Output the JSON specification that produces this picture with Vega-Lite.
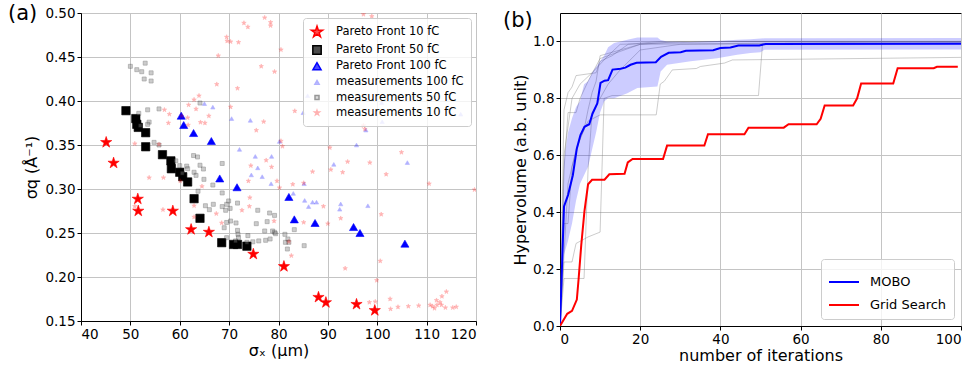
{
  "$schema": "https://vega.github.io/schema/vega-lite/v6.json",
  "background": "white",
  "padding": {"left": 7, "top": 2, "right": 5, "bottom": 5},
  "spacing": 25,
  "resolve": {
    "scale": {"fill": "independent", "stroke": "independent", "shape": "independent", "size": "independent", "opacity": "independent", "x": "independent", "y": "independent"},
    "legend": {"fill": "independent", "stroke": "independent", "shape": "independent", "size": "independent", "opacity": "independent"}
  },
  "config": {
    "font": "DejaVu Sans",
    "view": {"stroke": "black", "strokeWidth": 1},
    "axis": {
      "labelFont": "DejaVu Sans", "labelFontSize": 13.5, "labelColor": "black",
      "titleFont": "DejaVu Sans", "titleFontSize": 16, "titleFontWeight": "normal", "titleColor": "black",
      "domainColor": "black", "tickColor": "black", "tickSize": 4, "labelPadding": 2,
      "gridColor": "#c4c4c4", "gridWidth": 1
    },
    "legend": {"title": null, "labelFont": "DejaVu Sans", "labelColor": "black", "fillColor": "rgba(255,255,255,0.8)", "strokeColor": "#cccccc", "cornerRadius": 3},
    "title": {"font": "DejaVu Sans", "fontSize": 21, "fontWeight": "normal", "color": "black"}
  },
  "datasets": {
    "scatter": [
      {"series": "Pareto Front 10 fC", "x": 45.1, "y": 0.353},
      {"series": "Pareto Front 10 fC", "x": 46.6, "y": 0.3295},
      {"series": "Pareto Front 10 fC", "x": 51.5, "y": 0.2886},
      {"series": "Pareto Front 10 fC", "x": 51.6, "y": 0.275},
      {"series": "Pareto Front 10 fC", "x": 58.6, "y": 0.275},
      {"series": "Pareto Front 10 fC", "x": 62.3, "y": 0.254},
      {"series": "Pareto Front 10 fC", "x": 65.9, "y": 0.251},
      {"series": "Pareto Front 10 fC", "x": 74.9, "y": 0.226},
      {"series": "Pareto Front 10 fC", "x": 81.1, "y": 0.212},
      {"series": "Pareto Front 10 fC", "x": 88.1, "y": 0.177},
      {"series": "Pareto Front 10 fC", "x": 89.6, "y": 0.171},
      {"series": "Pareto Front 10 fC", "x": 95.8, "y": 0.169},
      {"series": "Pareto Front 10 fC", "x": 99.5, "y": 0.162},
      {"series": "Pareto Front 50 fC", "x": 49.1, "y": 0.389},
      {"series": "Pareto Front 50 fC", "x": 51.1, "y": 0.380},
      {"series": "Pareto Front 50 fC", "x": 51.3, "y": 0.3735},
      {"series": "Pareto Front 50 fC", "x": 51.6, "y": 0.370},
      {"series": "Pareto Front 50 fC", "x": 53.1, "y": 0.364},
      {"series": "Pareto Front 50 fC", "x": 53.1, "y": 0.348},
      {"series": "Pareto Front 50 fC", "x": 56.5, "y": 0.339},
      {"series": "Pareto Front 50 fC", "x": 58.2, "y": 0.332},
      {"series": "Pareto Front 50 fC", "x": 58.3, "y": 0.323},
      {"series": "Pareto Front 50 fC", "x": 60.0, "y": 0.319},
      {"series": "Pareto Front 50 fC", "x": 60.6, "y": 0.314},
      {"series": "Pareto Front 50 fC", "x": 61.6, "y": 0.308},
      {"series": "Pareto Front 50 fC", "x": 62.9, "y": 0.289},
      {"series": "Pareto Front 50 fC", "x": 64.1, "y": 0.2667},
      {"series": "Pareto Front 50 fC", "x": 68.5, "y": 0.239},
      {"series": "Pareto Front 50 fC", "x": 70.9, "y": 0.237},
      {"series": "Pareto Front 50 fC", "x": 71.7, "y": 0.237},
      {"series": "Pareto Front 50 fC", "x": 73.6, "y": 0.235},
      {"series": "Pareto Front 100 fC", "x": 60.3, "y": 0.3833},
      {"series": "Pareto Front 100 fC", "x": 60.8, "y": 0.3727},
      {"series": "Pareto Front 100 fC", "x": 62.8, "y": 0.3636},
      {"series": "Pareto Front 100 fC", "x": 66.4, "y": 0.3545},
      {"series": "Pareto Front 100 fC", "x": 68.1, "y": 0.312},
      {"series": "Pareto Front 100 fC", "x": 71.6, "y": 0.302},
      {"series": "Pareto Front 100 fC", "x": 82.1, "y": 0.291},
      {"series": "Pareto Front 100 fC", "x": 83.2, "y": 0.2655},
      {"series": "Pareto Front 100 fC", "x": 87.4, "y": 0.2614},
      {"series": "Pareto Front 100 fC", "x": 95.2, "y": 0.2568},
      {"series": "Pareto Front 100 fC", "x": 96.5, "y": 0.25},
      {"series": "Pareto Front 100 fC", "x": 105.6, "y": 0.2379},
      {"series": "measurements 100 fC", "x": 65.0, "y": 0.397},
      {"series": "measurements 100 fC", "x": 66.7, "y": 0.393},
      {"series": "measurements 100 fC", "x": 70.5, "y": 0.380},
      {"series": "measurements 100 fC", "x": 74.3, "y": 0.378},
      {"series": "measurements 100 fC", "x": 72.1, "y": 0.345},
      {"series": "measurements 100 fC", "x": 75.3, "y": 0.337},
      {"series": "measurements 100 fC", "x": 75.8, "y": 0.324},
      {"series": "measurements 100 fC", "x": 74.5, "y": 0.316},
      {"series": "measurements 100 fC", "x": 76.7, "y": 0.314},
      {"series": "measurements 100 fC", "x": 78.6, "y": 0.337},
      {"series": "measurements 100 fC", "x": 78.5, "y": 0.306},
      {"series": "measurements 100 fC", "x": 80.2, "y": 0.354},
      {"series": "measurements 100 fC", "x": 83.0, "y": 0.295},
      {"series": "measurements 100 fC", "x": 85.2, "y": 0.306},
      {"series": "measurements 100 fC", "x": 85.3, "y": 0.287},
      {"series": "measurements 100 fC", "x": 86.1, "y": 0.280},
      {"series": "measurements 100 fC", "x": 86.9, "y": 0.285},
      {"series": "measurements 100 fC", "x": 87.7, "y": 0.285},
      {"series": "measurements 100 fC", "x": 91.2, "y": 0.328},
      {"series": "measurements 100 fC", "x": 92.6, "y": 0.283},
      {"series": "measurements 100 fC", "x": 92.4, "y": 0.277},
      {"series": "measurements 100 fC", "x": 95.8, "y": 0.350},
      {"series": "measurements 100 fC", "x": 97.7, "y": 0.367},
      {"series": "measurements 100 fC", "x": 98.1, "y": 0.281},
      {"series": "measurements 100 fC", "x": 101.0, "y": 0.3765},
      {"series": "measurements 100 fC", "x": 100.9, "y": 0.398},
      {"series": "measurements 100 fC", "x": 106.1, "y": 0.330},
      {"series": "measurements 100 fC", "x": 85.9, "y": 0.406},
      {"series": "measurements 100 fC", "x": 85.0, "y": 0.3867},
      {"series": "measurements 100 fC", "x": 116.9, "y": 0.385},
      {"series": "measurements 50 fC", "x": 50.0, "y": 0.4394},
      {"series": "measurements 50 fC", "x": 51.3, "y": 0.4356},
      {"series": "measurements 50 fC", "x": 52.3, "y": 0.4333},
      {"series": "measurements 50 fC", "x": 53.0, "y": 0.443},
      {"series": "measurements 50 fC", "x": 52.8, "y": 0.425},
      {"series": "measurements 50 fC", "x": 54.2, "y": 0.432},
      {"series": "measurements 50 fC", "x": 54.2, "y": 0.4227},
      {"series": "measurements 50 fC", "x": 51.7, "y": 0.386},
      {"series": "measurements 50 fC", "x": 53.5, "y": 0.390},
      {"series": "measurements 50 fC", "x": 53.8, "y": 0.376},
      {"series": "measurements 50 fC", "x": 55.8, "y": 0.391},
      {"series": "measurements 50 fC", "x": 54.8, "y": 0.353},
      {"series": "measurements 50 fC", "x": 55.8, "y": 0.350},
      {"series": "measurements 50 fC", "x": 59.2, "y": 0.332},
      {"series": "measurements 50 fC", "x": 60.0, "y": 0.3265},
      {"series": "measurements 50 fC", "x": 61.4, "y": 0.326},
      {"series": "measurements 50 fC", "x": 62.8, "y": 0.338},
      {"series": "measurements 50 fC", "x": 63.6, "y": 0.3364},
      {"series": "measurements 50 fC", "x": 64.1, "y": 0.327},
      {"series": "measurements 50 fC", "x": 64.8, "y": 0.3227},
      {"series": "measurements 50 fC", "x": 62.9, "y": 0.319},
      {"series": "measurements 50 fC", "x": 64.9, "y": 0.311},
      {"series": "measurements 50 fC", "x": 68.6, "y": 0.329},
      {"series": "measurements 50 fC", "x": 66.7, "y": 0.3045},
      {"series": "measurements 50 fC", "x": 68.6, "y": 0.2955},
      {"series": "measurements 50 fC", "x": 65.2, "y": 0.281},
      {"series": "measurements 50 fC", "x": 66.0, "y": 0.2765},
      {"series": "measurements 50 fC", "x": 66.8, "y": 0.2826},
      {"series": "measurements 50 fC", "x": 68.6, "y": 0.280},
      {"series": "measurements 50 fC", "x": 69.5, "y": 0.2826},
      {"series": "measurements 50 fC", "x": 69.9, "y": 0.2864},
      {"series": "measurements 50 fC", "x": 70.2, "y": 0.278},
      {"series": "measurements 50 fC", "x": 71.7, "y": 0.284},
      {"series": "measurements 50 fC", "x": 69.3, "y": 0.2758},
      {"series": "measurements 50 fC", "x": 69.0, "y": 0.256},
      {"series": "measurements 50 fC", "x": 69.5, "y": 0.262},
      {"series": "measurements 50 fC", "x": 70.3, "y": 0.2636},
      {"series": "measurements 50 fC", "x": 71.4, "y": 0.2614},
      {"series": "measurements 50 fC", "x": 71.7, "y": 0.253},
      {"series": "measurements 50 fC", "x": 71.8, "y": 0.2485},
      {"series": "measurements 50 fC", "x": 71.9, "y": 0.2447},
      {"series": "measurements 50 fC", "x": 69.5, "y": 0.2447},
      {"series": "measurements 50 fC", "x": 71.3, "y": 0.241},
      {"series": "measurements 50 fC", "x": 73.8, "y": 0.247},
      {"series": "measurements 50 fC", "x": 73.6, "y": 0.2394},
      {"series": "measurements 50 fC", "x": 74.8, "y": 0.240},
      {"series": "measurements 50 fC", "x": 75.5, "y": 0.2606},
      {"series": "measurements 50 fC", "x": 75.8, "y": 0.2758},
      {"series": "measurements 50 fC", "x": 76.0, "y": 0.241},
      {"series": "measurements 50 fC", "x": 77.2, "y": 0.2523},
      {"series": "measurements 50 fC", "x": 77.4, "y": 0.2417},
      {"series": "measurements 50 fC", "x": 77.7, "y": 0.2629},
      {"series": "measurements 50 fC", "x": 78.2, "y": 0.2727},
      {"series": "measurements 50 fC", "x": 78.3, "y": 0.2432},
      {"series": "measurements 50 fC", "x": 78.8, "y": 0.2523},
      {"series": "measurements 50 fC", "x": 79.2, "y": 0.2508},
      {"series": "measurements 50 fC", "x": 79.2, "y": 0.270},
      {"series": "measurements 50 fC", "x": 79.4, "y": 0.2492},
      {"series": "measurements 50 fC", "x": 81.3, "y": 0.2485},
      {"series": "measurements 50 fC", "x": 81.4, "y": 0.2394},
      {"series": "measurements 50 fC", "x": 81.8, "y": 0.2318},
      {"series": "measurements 50 fC", "x": 81.9, "y": 0.2432},
      {"series": "measurements 50 fC", "x": 82.1, "y": 0.2394},
      {"series": "measurements 50 fC", "x": 83.2, "y": 0.2538},
      {"series": "measurements 50 fC", "x": 85.2, "y": 0.2356},
      {"series": "measurements 50 fC", "x": 64.1, "y": 0.3977},
      {"series": "measurements 50 fC", "x": 61.6, "y": 0.323},
      {"series": "measurements 50 fC", "x": 63.3, "y": 0.3155},
      {"series": "measurements 50 fC", "x": 53.5, "y": 0.3735},
      {"series": "measurements 50 fC", "x": 52.0, "y": 0.372},
      {"series": "measurements 50 fC", "x": 60.5, "y": 0.318},
      {"series": "measurements 50 fC", "x": 63.7, "y": 0.2975},
      {"series": "measurements 10 fC", "x": 73.0, "y": 0.4886},
      {"series": "measurements 10 fC", "x": 73.8, "y": 0.4841},
      {"series": "measurements 10 fC", "x": 77.2, "y": 0.4947},
      {"series": "measurements 10 fC", "x": 78.4, "y": 0.4894},
      {"series": "measurements 10 fC", "x": 78.4, "y": 0.4856},
      {"series": "measurements 10 fC", "x": 97.2, "y": 0.4985},
      {"series": "measurements 10 fC", "x": 98.9, "y": 0.4962},
      {"series": "measurements 10 fC", "x": 69.5, "y": 0.4727},
      {"series": "measurements 10 fC", "x": 69.6, "y": 0.4682},
      {"series": "measurements 10 fC", "x": 70.3, "y": 0.4674},
      {"series": "measurements 10 fC", "x": 71.9, "y": 0.4667},
      {"series": "measurements 10 fC", "x": 67.8, "y": 0.4515},
      {"series": "measurements 10 fC", "x": 80.5, "y": 0.4583},
      {"series": "measurements 10 fC", "x": 76.5, "y": 0.4394},
      {"series": "measurements 10 fC", "x": 79.2, "y": 0.4333},
      {"series": "measurements 10 fC", "x": 67.5, "y": 0.419},
      {"series": "measurements 10 fC", "x": 71.7, "y": 0.4144},
      {"series": "measurements 10 fC", "x": 62.9, "y": 0.4015},
      {"series": "measurements 10 fC", "x": 63.9, "y": 0.406},
      {"series": "measurements 10 fC", "x": 61.8, "y": 0.3955},
      {"series": "measurements 10 fC", "x": 63.3, "y": 0.3909},
      {"series": "measurements 10 fC", "x": 56.9, "y": 0.390},
      {"series": "measurements 10 fC", "x": 57.9, "y": 0.385},
      {"series": "measurements 10 fC", "x": 57.7, "y": 0.375},
      {"series": "measurements 10 fC", "x": 60.4, "y": 0.383},
      {"series": "measurements 10 fC", "x": 61.6, "y": 0.381},
      {"series": "measurements 10 fC", "x": 61.7, "y": 0.3727},
      {"series": "measurements 10 fC", "x": 64.2, "y": 0.3758},
      {"series": "measurements 10 fC", "x": 65.1, "y": 0.375},
      {"series": "measurements 10 fC", "x": 65.9, "y": 0.383},
      {"series": "measurements 10 fC", "x": 70.3, "y": 0.3932},
      {"series": "measurements 10 fC", "x": 75.5, "y": 0.3667},
      {"series": "measurements 10 fC", "x": 77.0, "y": 0.3765},
      {"series": "measurements 10 fC", "x": 83.3, "y": 0.3886},
      {"series": "measurements 10 fC", "x": 50.9, "y": 0.3515},
      {"series": "measurements 10 fC", "x": 55.8, "y": 0.3508},
      {"series": "measurements 10 fC", "x": 53.8, "y": 0.3129},
      {"series": "measurements 10 fC", "x": 56.7, "y": 0.3129},
      {"series": "measurements 10 fC", "x": 60.1, "y": 0.3091},
      {"series": "measurements 10 fC", "x": 64.5, "y": 0.303},
      {"series": "measurements 10 fC", "x": 73.9, "y": 0.3091},
      {"series": "measurements 10 fC", "x": 74.4, "y": 0.3265},
      {"series": "measurements 10 fC", "x": 77.5, "y": 0.3326},
      {"series": "measurements 10 fC", "x": 78.6, "y": 0.325},
      {"series": "measurements 10 fC", "x": 79.7, "y": 0.3091},
      {"series": "measurements 10 fC", "x": 80.2, "y": 0.3015},
      {"series": "measurements 10 fC", "x": 80.5, "y": 0.3545},
      {"series": "measurements 10 fC", "x": 80.8, "y": 0.3485},
      {"series": "measurements 10 fC", "x": 82.9, "y": 0.3053},
      {"series": "measurements 10 fC", "x": 85.1, "y": 0.3068},
      {"series": "measurements 10 fC", "x": 86.9, "y": 0.3197},
      {"series": "measurements 10 fC", "x": 90.4, "y": 0.347},
      {"series": "measurements 10 fC", "x": 90.6, "y": 0.322},
      {"series": "measurements 10 fC", "x": 93.0, "y": 0.319},
      {"series": "measurements 10 fC", "x": 94.0, "y": 0.331},
      {"series": "measurements 10 fC", "x": 98.5, "y": 0.330},
      {"series": "measurements 10 fC", "x": 97.2, "y": 0.372},
      {"series": "measurements 10 fC", "x": 97.5, "y": 0.368},
      {"series": "measurements 10 fC", "x": 104.9, "y": 0.3417},
      {"series": "measurements 10 fC", "x": 101.8, "y": 0.3167},
      {"series": "measurements 10 fC", "x": 110.5, "y": 0.306},
      {"series": "measurements 10 fC", "x": 119.7, "y": 0.2992},
      {"series": "measurements 10 fC", "x": 100.8, "y": 0.2712},
      {"series": "measurements 10 fC", "x": 89.1, "y": 0.2803},
      {"series": "measurements 10 fC", "x": 92.6, "y": 0.2667},
      {"series": "measurements 10 fC", "x": 90.0, "y": 0.2606},
      {"series": "measurements 10 fC", "x": 85.1, "y": 0.2621},
      {"series": "measurements 10 fC", "x": 50.9, "y": 0.2803},
      {"series": "measurements 10 fC", "x": 56.6, "y": 0.2765},
      {"series": "measurements 10 fC", "x": 62.9, "y": 0.281},
      {"series": "measurements 10 fC", "x": 62.9, "y": 0.2682},
      {"series": "measurements 10 fC", "x": 67.4, "y": 0.272},
      {"series": "measurements 10 fC", "x": 68.5, "y": 0.2614},
      {"series": "measurements 10 fC", "x": 72.6, "y": 0.2758},
      {"series": "measurements 10 fC", "x": 74.1, "y": 0.2803},
      {"series": "measurements 10 fC", "x": 74.2, "y": 0.2902},
      {"series": "measurements 10 fC", "x": 79.1, "y": 0.2636},
      {"series": "measurements 10 fC", "x": 82.1, "y": 0.2402},
      {"series": "measurements 10 fC", "x": 82.6, "y": 0.2242},
      {"series": "measurements 10 fC", "x": 93.5, "y": 0.2098},
      {"series": "measurements 10 fC", "x": 100.6, "y": 0.2182},
      {"series": "measurements 10 fC", "x": 99.9, "y": 0.1962},
      {"series": "measurements 10 fC", "x": 98.4, "y": 0.1712},
      {"series": "measurements 10 fC", "x": 99.6, "y": 0.172},
      {"series": "measurements 10 fC", "x": 102.6, "y": 0.175},
      {"series": "measurements 10 fC", "x": 102.7, "y": 0.1636},
      {"series": "measurements 10 fC", "x": 104.2, "y": 0.1659},
      {"series": "measurements 10 fC", "x": 106.3, "y": 0.1667},
      {"series": "measurements 10 fC", "x": 108.4, "y": 0.1674},
      {"series": "measurements 10 fC", "x": 110.7, "y": 0.1682},
      {"series": "measurements 10 fC", "x": 111.2, "y": 0.1667},
      {"series": "measurements 10 fC", "x": 111.6, "y": 0.1644},
      {"series": "measurements 10 fC", "x": 112.1, "y": 0.1682},
      {"series": "measurements 10 fC", "x": 112.0, "y": 0.1735},
      {"series": "measurements 10 fC", "x": 112.7, "y": 0.1712},
      {"series": "measurements 10 fC", "x": 113.1, "y": 0.178},
      {"series": "measurements 10 fC", "x": 114.0, "y": 0.1833},
      {"series": "measurements 10 fC", "x": 113.0, "y": 0.1682},
      {"series": "measurements 10 fC", "x": 113.8, "y": 0.1652},
      {"series": "measurements 10 fC", "x": 115.3, "y": 0.1652},
      {"series": "measurements 10 fC", "x": 116.0, "y": 0.166}
    ],
    "runs": [
      {"run": 1, "it": 0, "hv": 0}, {"run": 1, "it": 1, "hv": 0.76}, {"run": 1, "it": 2, "hv": 0.82}, {"run": 1, "it": 3, "hv": 0.84}, {"run": 1, "it": 4, "hv": 0.88}, {"run": 1, "it": 9, "hv": 0.89}, {"run": 1, "it": 10, "hv": 0.93}, {"run": 1, "it": 13, "hv": 0.95}, {"run": 1, "it": 17, "hv": 0.99}, {"run": 1, "it": 25, "hv": 1.0}, {"run": 1, "it": 100, "hv": 1.0},
      {"run": 2, "it": 0, "hv": 0}, {"run": 2, "it": 1, "hv": 0.167}, {"run": 2, "it": 6, "hv": 0.167}, {"run": 2, "it": 7, "hv": 0.55}, {"run": 2, "it": 8, "hv": 0.75}, {"run": 2, "it": 10, "hv": 0.80}, {"run": 2, "it": 12, "hv": 0.85}, {"run": 2, "it": 15, "hv": 0.90}, {"run": 2, "it": 20, "hv": 0.97}, {"run": 2, "it": 30, "hv": 0.99}, {"run": 2, "it": 100, "hv": 0.995},
      {"run": 3, "it": 0, "hv": 0}, {"run": 3, "it": 1, "hv": 0.36}, {"run": 3, "it": 2, "hv": 0.36}, {"run": 3, "it": 3, "hv": 0.56}, {"run": 3, "it": 4, "hv": 0.62}, {"run": 3, "it": 6, "hv": 0.69}, {"run": 3, "it": 7, "hv": 0.76}, {"run": 3, "it": 8, "hv": 0.82}, {"run": 3, "it": 9, "hv": 0.86}, {"run": 3, "it": 10, "hv": 0.95}, {"run": 3, "it": 15, "hv": 0.97}, {"run": 3, "it": 20, "hv": 0.99}, {"run": 3, "it": 100, "hv": 1.0},
      {"run": 4, "it": 0, "hv": 0}, {"run": 4, "it": 1, "hv": 0.225}, {"run": 4, "it": 3, "hv": 0.225}, {"run": 4, "it": 4, "hv": 0.29}, {"run": 4, "it": 7, "hv": 0.313}, {"run": 4, "it": 10, "hv": 0.33}, {"run": 4, "it": 11, "hv": 0.80}, {"run": 4, "it": 13, "hv": 0.81}, {"run": 4, "it": 49.5, "hv": 0.81}, {"run": 4, "it": 50.5, "hv": 0.99}, {"run": 4, "it": 100, "hv": 0.995},
      {"run": 5, "it": 0, "hv": 0}, {"run": 5, "it": 2, "hv": 0.5}, {"run": 5, "it": 3, "hv": 0.56}, {"run": 5, "it": 5, "hv": 0.66}, {"run": 5, "it": 7, "hv": 0.72}, {"run": 5, "it": 10, "hv": 0.742}, {"run": 5, "it": 24, "hv": 0.742}, {"run": 5, "it": 25, "hv": 0.85}, {"run": 5, "it": 26, "hv": 0.86}, {"run": 5, "it": 28, "hv": 0.90}, {"run": 5, "it": 34, "hv": 0.905}, {"run": 5, "it": 35, "hv": 0.912}, {"run": 5, "it": 41, "hv": 0.924}, {"run": 5, "it": 43, "hv": 0.935}, {"run": 5, "it": 100, "hv": 0.944},
      {"run": 6, "it": 0, "hv": 0}, {"run": 6, "it": 1, "hv": 0.55}, {"run": 6, "it": 2, "hv": 0.75}, {"run": 6, "it": 4, "hv": 0.75}, {"run": 6, "it": 5, "hv": 0.80}, {"run": 6, "it": 7, "hv": 0.86}, {"run": 6, "it": 10, "hv": 0.94}, {"run": 6, "it": 20, "hv": 0.99}, {"run": 6, "it": 30, "hv": 1.0}, {"run": 6, "it": 100, "hv": 1.0},
      {"run": 7, "it": 0, "hv": 0}, {"run": 7, "it": 1, "hv": 0.6}, {"run": 7, "it": 3, "hv": 0.8}, {"run": 7, "it": 5, "hv": 0.85}, {"run": 7, "it": 8, "hv": 0.89}, {"run": 7, "it": 12, "hv": 0.95}, {"run": 7, "it": 15, "hv": 0.99}, {"run": 7, "it": 40, "hv": 1.0}, {"run": 7, "it": 100, "hv": 1.0}
    ],
    "band": [
      {"it": 0, "lo": 0, "hi": 0}, {"it": 1, "lo": 0.25, "hi": 0.58}, {"it": 2, "lo": 0.30, "hi": 0.68}, {"it": 3, "lo": 0.36, "hi": 0.73}, {"it": 4, "lo": 0.44, "hi": 0.77}, {"it": 5, "lo": 0.50, "hi": 0.79}, {"it": 6, "lo": 0.53, "hi": 0.85}, {"it": 7, "lo": 0.56, "hi": 0.86}, {"it": 8, "lo": 0.62, "hi": 0.89}, {"it": 9, "lo": 0.68, "hi": 0.91}, {"it": 10, "lo": 0.75, "hi": 0.93}, {"it": 11, "lo": 0.789, "hi": 0.95}, {"it": 12, "lo": 0.80, "hi": 0.98}, {"it": 13.5, "lo": 0.80, "hi": 0.995}, {"it": 16.8, "lo": 0.818, "hi": 1.006}, {"it": 19.3, "lo": 0.836, "hi": 1.014}, {"it": 24.3, "lo": 0.842, "hi": 1.014}, {"it": 25.1, "lo": 0.894, "hi": 1.005}, {"it": 26.7, "lo": 0.918, "hi": 1.0}, {"it": 32.6, "lo": 0.93, "hi": 0.998}, {"it": 39.2, "lo": 0.941, "hi": 1.002}, {"it": 44.2, "lo": 0.953, "hi": 1.006}, {"it": 47.5, "lo": 0.959, "hi": 1.008}, {"it": 50, "lo": 0.962, "hi": 1.01}, {"it": 51, "lo": 0.971, "hi": 1.011}, {"it": 100, "lo": 0.972, "hi": 1.012}
    ],
    "curves": [
      {"series": "MOBO", "it": 0, "hv": 0}, {"series": "MOBO", "it": 1.0, "hv": 0.42}, {"series": "MOBO", "it": 2.0, "hv": 0.46}, {"series": "MOBO", "it": 3.2, "hv": 0.53}, {"series": "MOBO", "it": 4.2, "hv": 0.624}, {"series": "MOBO", "it": 5.1, "hv": 0.671}, {"series": "MOBO", "it": 6.1, "hv": 0.70}, {"series": "MOBO", "it": 7.3, "hv": 0.709}, {"series": "MOBO", "it": 8.1, "hv": 0.746}, {"series": "MOBO", "it": 9.3, "hv": 0.782}, {"series": "MOBO", "it": 10.1, "hv": 0.854}, {"series": "MOBO", "it": 11.1, "hv": 0.862}, {"series": "MOBO", "it": 12.0, "hv": 0.864}, {"series": "MOBO", "it": 13.1, "hv": 0.901}, {"series": "MOBO", "it": 15.1, "hv": 0.904}, {"series": "MOBO", "it": 16.3, "hv": 0.908}, {"series": "MOBO", "it": 17.6, "hv": 0.918}, {"series": "MOBO", "it": 19.1, "hv": 0.925}, {"series": "MOBO", "it": 23.9, "hv": 0.927}, {"series": "MOBO", "it": 25.2, "hv": 0.946}, {"series": "MOBO", "it": 27.1, "hv": 0.960}, {"series": "MOBO", "it": 30.1, "hv": 0.962}, {"series": "MOBO", "it": 31.4, "hv": 0.967}, {"series": "MOBO", "it": 38.2, "hv": 0.969}, {"series": "MOBO", "it": 40.0, "hv": 0.977}, {"series": "MOBO", "it": 42.5, "hv": 0.979}, {"series": "MOBO", "it": 44.5, "hv": 0.986}, {"series": "MOBO", "it": 49.7, "hv": 0.986}, {"series": "MOBO", "it": 51.3, "hv": 0.991}, {"series": "MOBO", "it": 100, "hv": 0.992},
      {"series": "Grid Search", "it": 0, "hv": 0}, {"series": "Grid Search", "it": 1.8, "hv": 0.043}, {"series": "Grid Search", "it": 3.0, "hv": 0.053}, {"series": "Grid Search", "it": 4.2, "hv": 0.093}, {"series": "Grid Search", "it": 4.65, "hv": 0.167}, {"series": "Grid Search", "it": 5.3, "hv": 0.284}, {"series": "Grid Search", "it": 6.1, "hv": 0.404}, {"series": "Grid Search", "it": 7.0, "hv": 0.498}, {"series": "Grid Search", "it": 8.0, "hv": 0.514}, {"series": "Grid Search", "it": 11.1, "hv": 0.514}, {"series": "Grid Search", "it": 12.3, "hv": 0.533}, {"series": "Grid Search", "it": 16.1, "hv": 0.535}, {"series": "Grid Search", "it": 16.9, "hv": 0.575}, {"series": "Grid Search", "it": 18.1, "hv": 0.587}, {"series": "Grid Search", "it": 25.7, "hv": 0.587}, {"series": "Grid Search", "it": 26.7, "hv": 0.634}, {"series": "Grid Search", "it": 36.0, "hv": 0.634}, {"series": "Grid Search", "it": 36.9, "hv": 0.674}, {"series": "Grid Search", "it": 46.0, "hv": 0.674}, {"series": "Grid Search", "it": 47.0, "hv": 0.697}, {"series": "Grid Search", "it": 55.8, "hv": 0.697}, {"series": "Grid Search", "it": 57.0, "hv": 0.709}, {"series": "Grid Search", "it": 64.0, "hv": 0.709}, {"series": "Grid Search", "it": 65.0, "hv": 0.728}, {"series": "Grid Search", "it": 66.0, "hv": 0.775}, {"series": "Grid Search", "it": 73.1, "hv": 0.775}, {"series": "Grid Search", "it": 74.1, "hv": 0.80}, {"series": "Grid Search", "it": 75.1, "hv": 0.852}, {"series": "Grid Search", "it": 83.1, "hv": 0.852}, {"series": "Grid Search", "it": 84.2, "hv": 0.906}, {"series": "Grid Search", "it": 93.2, "hv": 0.906}, {"series": "Grid Search", "it": 94.0, "hv": 0.911}, {"series": "Grid Search", "it": 99.2, "hv": 0.911}
    ]
  },
  "hconcat": [
    {
      "width": 395,
      "height": 308,
      "title": {"text": "(a)", "anchor": "start", "frame": "group", "dx": -73, "dy": 21, "baseline": "top", "offset": 3},
      "data": {"name": "scatter"},
      "mark": {"type": "point", "filled": true, "strokeWidth": 0.6, "clip": true},
      "encoding": {
        "x": {"field": "x", "type": "quantitative", "scale": {"domain": [40, 120], "nice": false, "zero": false}, "axis": {"values": [40, 50, 60, 70, 80, 90, 100, 110, 120], "title": "σₓ (μm)", "titlePadding": 2}},
        "y": {"field": "y", "type": "quantitative", "scale": {"domain": [0.15, 0.5], "nice": false, "zero": false}, "axis": {"values": [0.15, 0.2, 0.25, 0.3, 0.35, 0.4, 0.45, 0.5], "format": ".2f", "title": "σq (Å⁻¹)", "titlePadding": 5}},
        "fill": {"field": "series", "type": "nominal",
          "scale": {"domain": ["Pareto Front 10 fC", "Pareto Front 50 fC", "Pareto Front 100 fC", "measurements 100 fC", "measurements 50 fC", "measurements 10 fC"], "range": ["#ff0000", "#000000", "#0000ff", "#0000ff", "#808080", "#ff0000"]},
          "legend": {"orient": "top-right", "offset": 5, "padding": 7, "labelFontSize": 11.5, "rowPadding": 2.2, "labelOffset": 12}},
        "stroke": {"field": "series", "type": "nominal",
          "scale": {"domain": ["Pareto Front 10 fC", "Pareto Front 50 fC", "Pareto Front 100 fC", "measurements 100 fC", "measurements 50 fC", "measurements 10 fC"], "range": ["#ff0000", "#000000", "#0000ff", "#0000ff", "#000000", "#ff0000"]},
          "legend": {"orient": "top-right", "offset": 5, "padding": 7, "labelFontSize": 11.5, "rowPadding": 2.2, "labelOffset": 12}},
        "shape": {"field": "series", "type": "nominal",
          "scale": {"domain": ["Pareto Front 10 fC", "Pareto Front 50 fC", "Pareto Front 100 fC", "measurements 100 fC", "measurements 50 fC", "measurements 10 fC"], "range": ["M0,-1L0.2245,-0.309L0.9511,-0.309L0.3633,0.118L0.5878,0.809L0,0.382L-0.5878,0.809L-0.3633,0.118L-0.9511,-0.309L-0.2245,-0.309Z", "square", "triangle-up", "triangle-up", "square", "M0,-1L0.2245,-0.309L0.9511,-0.309L0.3633,0.118L0.5878,0.809L0,0.382L-0.5878,0.809L-0.3633,0.118L-0.9511,-0.309L-0.2245,-0.309Z"]},
          "legend": {"orient": "top-right", "offset": 5, "padding": 7, "labelFontSize": 11.5, "rowPadding": 2.2, "labelOffset": 12}},
        "size": {"field": "series", "type": "nominal",
          "scale": {"type": "ordinal", "domain": ["Pareto Front 10 fC", "Pareto Front 50 fC", "Pareto Front 100 fC", "measurements 100 fC", "measurements 50 fC", "measurements 10 fC"], "range": [140, 70, 66, 18, 16, 22]},
          "legend": {"orient": "top-right", "offset": 5, "padding": 7, "labelFontSize": 11.5, "rowPadding": 2.2, "labelOffset": 12}},
        "opacity": {"field": "series", "type": "nominal",
          "scale": {"type": "ordinal", "domain": ["Pareto Front 10 fC", "Pareto Front 50 fC", "Pareto Front 100 fC", "measurements 100 fC", "measurements 50 fC", "measurements 10 fC"], "range": [1, 1, 1, 0.3, 0.4, 0.3]},
          "legend": {"orient": "top-right", "offset": 5, "padding": 7, "labelFontSize": 11.5, "rowPadding": 2.2, "labelOffset": 12}}
      }
    },
    {
      "width": 401,
      "height": 313,
      "title": {"text": "(b)", "anchor": "start", "frame": "group", "dx": -57, "dy": 21, "baseline": "top", "offset": 3},
      "encoding": {
        "x": {"field": "it", "type": "quantitative", "scale": {"domain": [0, 100], "nice": false}, "axis": {"values": [0, 20, 40, 60, 80, 100], "title": "number of iterations", "titlePadding": 2}}
      },
      "layer": [
        {
          "data": {"name": "runs"},
          "mark": {"type": "line", "stroke": "#808080", "strokeWidth": 1, "opacity": 0.4, "clip": true},
          "encoding": {
            "y": {"field": "hv", "type": "quantitative", "scale": {"domain": [0, 1.1], "nice": false}, "axis": {"values": [0, 0.2, 0.4, 0.6, 0.8, 1.0], "format": ".1f", "title": "Hypervolume (a.b. unit)", "titlePadding": 4}},
            "detail": {"field": "run", "type": "nominal"}
          }
        },
        {
          "data": {"name": "band"},
          "mark": {"type": "area", "fill": "#0000ff", "opacity": 0.2, "clip": true},
          "encoding": {
            "y": {"field": "lo", "type": "quantitative", "scale": {"domain": [0, 1.1], "nice": false}, "axis": {"values": [0, 0.2, 0.4, 0.6, 0.8, 1.0], "format": ".1f", "title": "Hypervolume (a.b. unit)", "titlePadding": 4}},
            "y2": {"field": "hi"}
          }
        },
        {
          "data": {"name": "curves"},
          "mark": {"type": "line", "strokeWidth": 2, "clip": true},
          "encoding": {
            "y": {"field": "hv", "type": "quantitative", "scale": {"domain": [0, 1.1], "nice": false}, "axis": {"values": [0, 0.2, 0.4, 0.6, 0.8, 1.0], "format": ".1f", "title": "Hypervolume (a.b. unit)", "titlePadding": 4}},
            "stroke": {"field": "series", "type": "nominal", "scale": {"domain": ["MOBO", "Grid Search"], "range": ["#0000ff", "#ff0000"]},
              "legend": {"orient": "bottom-right", "offset": 7, "padding": 7, "labelFontSize": 13, "symbolType": "stroke", "symbolSize": 900, "symbolStrokeWidth": 2, "rowPadding": -4, "labelOffset": 10}}
          }
        }
      ]
    }
  ]
}
